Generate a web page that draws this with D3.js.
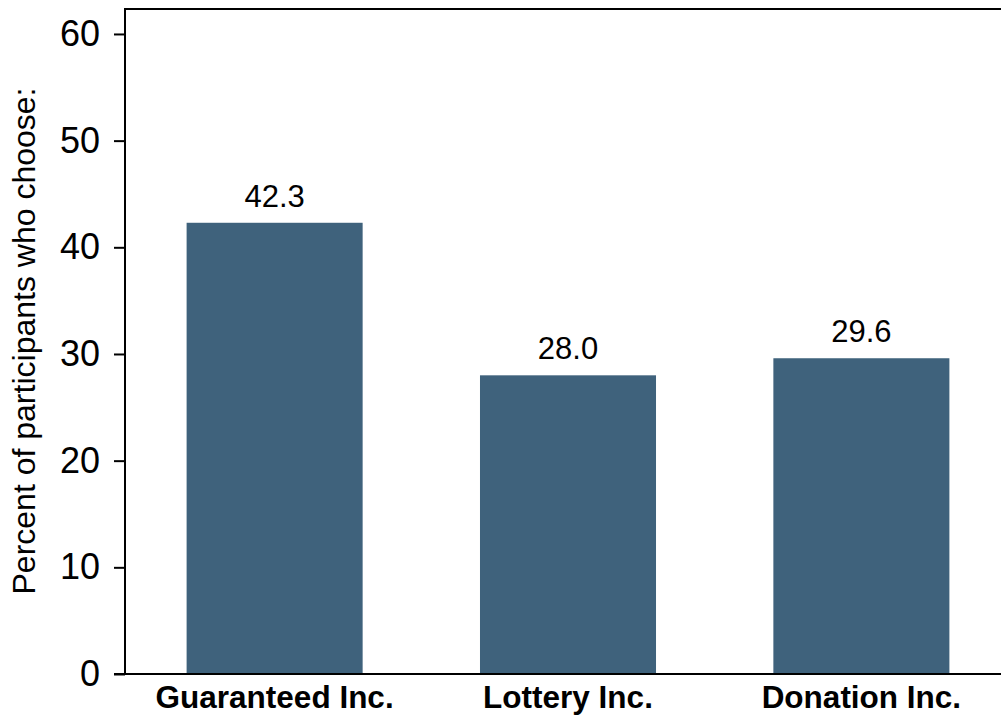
<!DOCTYPE html>
<html>
<head>
<meta charset="utf-8">
<script src="https://cdn.jsdelivr.net/npm/d3@7"></script>
<style>
  body { margin: 0; background: #fff; }
  svg { display: block; font-family: "Liberation Sans", Arial, sans-serif; }
</style>
</head>
<body>
<div id="chart"></div>
<script>
const categories = ["Guaranteed Inc.", "Lottery Inc.", "Donation Inc."];
const values = [42.3, 28.0, 29.6];
const valueLabels = ["42.3", "28.0", "29.6"];
const yTicks = [0, 10, 20, 30, 40, 50, 60];

const W = 1001, H = 719;
const plotLeft = 125, plotTop = 9, plotBottom = 674;
const BAR = "#3f627c";

const svg = d3.select("#chart").append("svg")
  .attr("width", W).attr("height", H);

const x = d3.scaleBand()
  .domain(categories)
  .range([plotLeft, 1011])
  .paddingInner(0.4)
  .paddingOuter(0.21);

const y = d3.scaleLinear()
  .domain([0, 62.34])
  .range([plotBottom, plotTop]);

// bars
svg.append("g").selectAll("rect")
  .data(values)
  .join("rect")
  .attr("x", (d, i) => x(categories[i]))
  .attr("width", x.bandwidth())
  .attr("y", d => y(d))
  .attr("height", d => y(0) - y(d))
  .attr("fill", BAR);

// value labels
svg.append("g").selectAll("text")
  .data(values)
  .join("text")
  .attr("x", (d, i) => x(categories[i]) + x.bandwidth() / 2)
  .attr("y", d => y(d) - 16)
  .attr("text-anchor", "middle")
  .attr("font-size", 31)
  .attr("fill", "#000")
  .text((d, i) => valueLabels[i]);

// y axis
const yAxis = svg.append("g")
  .attr("transform", `translate(${plotLeft},0)`)
  .call(d3.axisLeft(y).tickValues(yTicks).tickSize(11).tickPadding(14).tickFormat(d3.format("d")));
yAxis.select(".domain").remove();
yAxis.selectAll(".tick line").attr("stroke", "#000").attr("stroke-width", 2);
yAxis.selectAll(".tick text").attr("font-size", 36).attr("fill", "#000")
  .attr("font-family", "'Liberation Sans', Arial, sans-serif");

// frame: left, top, bottom
svg.append("line")
  .attr("x1", plotLeft).attr("x2", plotLeft).attr("y1", plotTop).attr("y2", plotBottom)
  .attr("stroke", "#000").attr("stroke-width", 2);
svg.append("line")
  .attr("x1", plotLeft - 1).attr("x2", W).attr("y1", plotTop).attr("y2", plotTop)
  .attr("stroke", "#000").attr("stroke-width", 2);
svg.append("line")
  .attr("x1", plotLeft - 11).attr("x2", W).attr("y1", plotBottom).attr("y2", plotBottom)
  .attr("stroke", "#000").attr("stroke-width", 2);

// category labels
svg.append("g").selectAll("text")
  .data(categories)
  .join("text")
  .attr("x", d => x(d) + x.bandwidth() / 2)
  .attr("y", 708)
  .attr("text-anchor", "middle")
  .attr("font-size", 31.5)
  .attr("font-weight", "bold")
  .attr("fill", "#000")
  .text(d => d);

// y title
svg.append("text")
  .attr("transform", "translate(35,341) rotate(-90)")
  .attr("text-anchor", "middle")
  .attr("font-size", 32)
  .attr("fill", "#000")
  .text("Percent of participants who choose:");
</script>
</body>
</html>
